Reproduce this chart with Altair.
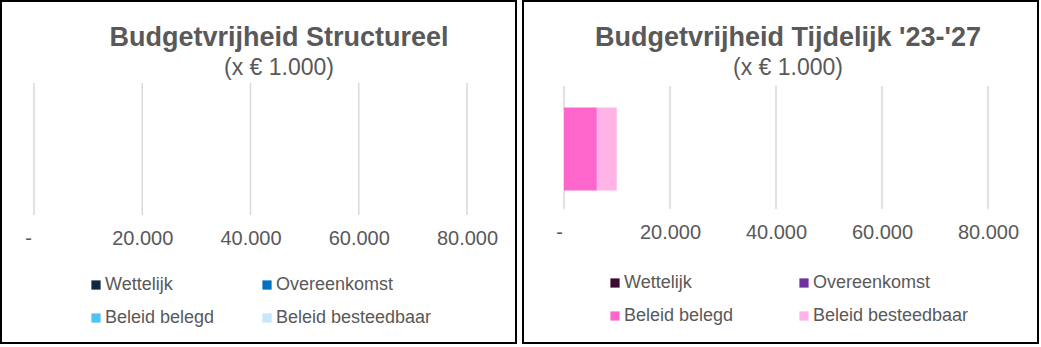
import altair as alt
import pandas as pd

# ---- data ----
categories = ["Wettelijk", "Overeenkomst", "Beleid belegd", "Beleid besteedbaar"]
structureel_values = [0, 0, 0, 0]
tijdelijk_values = [0, 0, 6200, 3750]
tick_values = [0, 20000, 40000, 60000, 80000]
colors_structureel = ["#0e2841", "#0070c0", "#4dc3f7", "#c5e9fb"]
colors_tijdelijk = ["#3c0a31", "#7030a0", "#ff66cc", "#ffb3e6"]
title_structureel = "Budgetvrijheid Structureel"
title_tijdelijk = "Budgetvrijheid Tijdelijk '23-'27"
subtitle_text = "(x € 1.000)"

GREY = "#595959"
FONT = "Liberation Sans"
LABEL_EXPR = ("datum.value == 0 ? '-' : "
              "replace(format(datum.value, ','), ',', '.')")


def panel(values, colors, title, width, height, grid_top, grid_bottom,
          label_pad, dash_shift, legend_x, legend_y, col_pad, title_x, border):
    bars_df = pd.DataFrame({
        "categorie": categories,
        "waarde": values,
        "volgorde": list(range(len(categories))),
        "groep": ["a"] * len(categories),
    })
    ticks_df = pd.DataFrame({"tick": tick_values})
    one = pd.DataFrame({"k": [0]})

    xscale = alt.Scale(domain=[tick_values[0], tick_values[-1]], nice=False, zero=True)
    axis = alt.Axis(values=tick_values, grid=False, domain=False, ticks=False,
                    tickSize=0, labelPadding=label_pad, labelBaseline="middle",
                    labelFontSize=20, labelColor=GREY, labelFont=FONT,
                    labelExpr=LABEL_EXPR, labelFlush=False, labelOverlap=False,
                    labelOffset={"condition": {"test": "datum.value == 0",
                                               "value": dash_shift},
                                 "value": 0},
                    title=None)

    rules = alt.Chart(ticks_df).mark_rule(color="#d9d9d9", strokeWidth=1.5).encode(
        x=alt.X("tick:Q", scale=xscale, axis=axis),
        y=alt.value(grid_top),
        y2=alt.value(grid_bottom),
    )

    bars = alt.Chart(bars_df).mark_bar(size=83).encode(
        x=alt.X("waarde:Q", scale=xscale, axis=axis, stack="zero"),
        y=alt.Y("groep:N", axis=None),
        color=alt.Color(
            "categorie:N",
            scale=alt.Scale(domain=categories, range=colors),
            legend=alt.Legend(
                title=None, orient="none", legendX=legend_x, legendY=legend_y,
                columns=2, direction="horizontal", symbolType="square",
                symbolSize=85, symbolStrokeWidth=0, labelFontSize=18,
                labelColor=GREY, labelFont=FONT, labelOffset=0,
                columnPadding=col_pad, rowPadding=15, padding=0,
                labelLimit=300,
            ),
            sort=categories,
        ),
        order=alt.Order("volgorde:Q"),
    )

    title_mark = alt.Chart(one).mark_text(
        text=title, font=FONT, fontSize=27, fontWeight="bold", color=GREY,
        align="center", baseline="middle",
    ).encode(x=alt.value(title_x), y=alt.value(-45))

    subtitle_mark = alt.Chart(one).mark_text(
        text=subtitle_text, font=FONT, fontSize=23, color=GREY,
        align="center", baseline="middle",
    ).encode(x=alt.value(title_x), y=alt.value(-15))

    bx1, bx2, by1, by2 = border
    frame = alt.Chart(one).mark_rect(
        fillOpacity=0, stroke="#000000", strokeWidth=2,
    ).encode(x=alt.value(bx1), x2=alt.value(bx2), y=alt.value(by1), y2=alt.value(by2))

    return alt.layer(rules, bars, title_mark, subtitle_mark, frame).properties(
        width=width, height=height
    )


left = panel(structureel_values, colors_structureel, title_structureel,
             width=433, height=132, grid_top=0, grid_bottom=132, label_pad=23,
             dash_shift=-6, legend_x=53, legend_y=193, col_pad=43, title_x=245,
             border=(-33, 482, -82, 260))

right = panel(tijdelijk_values, colors_tijdelijk, title_tijdelijk,
              width=424, height=132, grid_top=3, grid_bottom=126, label_pad=17,
              dash_shift=-5, legend_x=42, legend_y=191, col_pad=61, title_x=224,
              border=(-41, 474, -82, 260))

chart = alt.hconcat(left, right, spacing=97, bounds="flush").resolve_scale(
    color="independent", x="independent"
).properties(padding=0).configure(
    font=FONT, view=alt.ViewConfig(strokeWidth=0, stroke="transparent")
)

chart.save("out.html", embed_options={"renderer": "svg", "actions": False})
